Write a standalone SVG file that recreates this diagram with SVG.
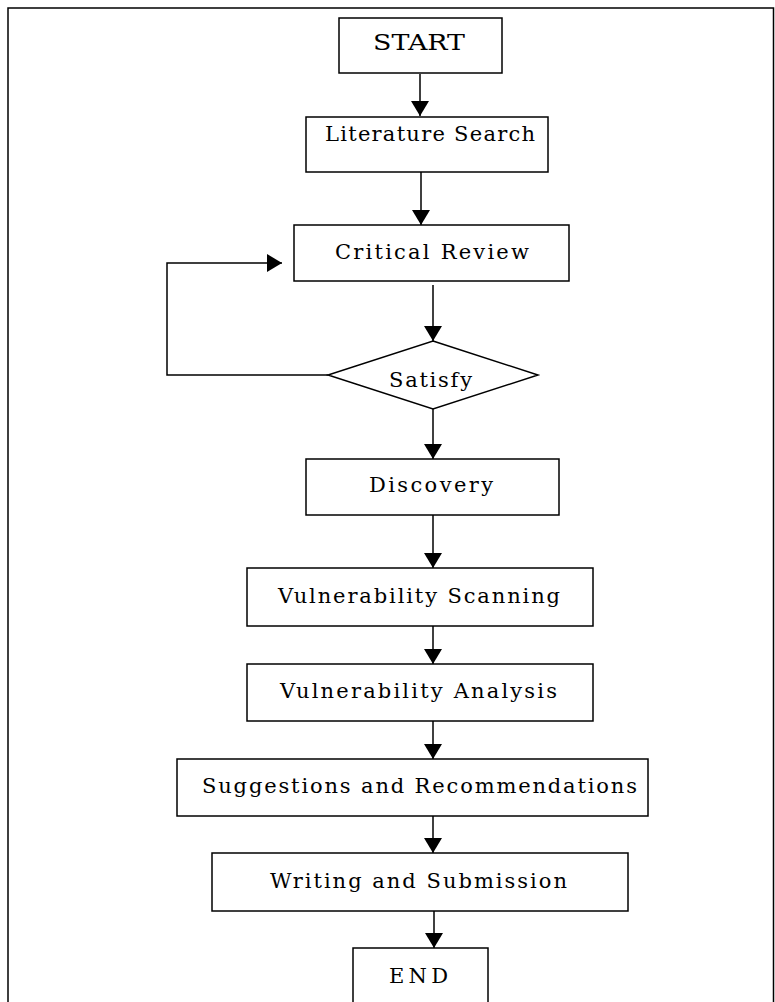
<svg xmlns="http://www.w3.org/2000/svg" width="775" height="1002" viewBox="0 0 775 1002">
<style>
.box{fill:#fff;stroke:#000;stroke-width:1.5}
.frame{fill:none;stroke:#000;stroke-width:1.5}
.lbl{font-family:"DejaVu Serif","Liberation Serif",serif;font-size:21px;fill:#000}
.mono{font-family:"DejaVu Serif","Liberation Serif",serif;font-size:23px;fill:#000}
.conn{fill:none;stroke:#000;stroke-width:1.5}
</style>
<defs>
<marker id="ah" viewBox="0 0 15 18" refX="15" refY="9" markerWidth="15" markerHeight="18" markerUnits="userSpaceOnUse" orient="auto">
<path d="M0,0 L15,9 L0,18 Z" fill="#000"/>
</marker>
</defs>
<rect width="775" height="1002" fill="#fff"/>
<path class="frame" d="M8,1002 V8 H773.5 V1002"/>
<g id="connectors">
<line class="conn" x1="420" y1="74" x2="420" y2="116" marker-end="url(#ah)"/>
<line class="conn" x1="421" y1="172" x2="421" y2="225" marker-end="url(#ah)"/>
<line class="conn" x1="433" y1="285" x2="433" y2="341" marker-end="url(#ah)"/>
<line class="conn" x1="433" y1="409" x2="433" y2="459" marker-end="url(#ah)"/>
<line class="conn" x1="433" y1="515" x2="433" y2="568" marker-end="url(#ah)"/>
<line class="conn" x1="433" y1="626" x2="433" y2="664" marker-end="url(#ah)"/>
<line class="conn" x1="433" y1="721" x2="433" y2="759" marker-end="url(#ah)"/>
<line class="conn" x1="433" y1="816" x2="433" y2="853" marker-end="url(#ah)"/>
<line class="conn" x1="434" y1="911" x2="434" y2="948" marker-end="url(#ah)"/>
<polyline class="conn" points="328,375 167,375 167,263 282,263" marker-end="url(#ah)"/>
</g>
<g id="start">
<rect class="box" x="339" y="18" width="163" height="55"/>
<text class="mono" x="373" y="50" textLength="92" lengthAdjust="spacingAndGlyphs">START</text>
</g>
<g id="literature-search">
<rect class="box" x="306" y="117" width="242" height="55"/>
<text class="lbl" x="325" y="141" textLength="210" lengthAdjust="spacing">Literature Search</text>
</g>
<g id="critical-review">
<rect class="box" x="294" y="225" width="275" height="56"/>
<text class="lbl" x="335" y="259" textLength="194" lengthAdjust="spacing">Critical Review</text>
</g>
<g id="satisfy">
<polygon class="box" points="433,341 538,375 433,409 328,375"/>
<text class="lbl" x="389" y="387" textLength="83" lengthAdjust="spacing">Satisfy</text>
</g>
<g id="discovery">
<rect class="box" x="306" y="459" width="253" height="56"/>
<text class="lbl" x="369" y="492" textLength="124" lengthAdjust="spacing">Discovery</text>
</g>
<g id="vulnerability-scanning">
<rect class="box" x="247" y="568" width="346" height="58"/>
<text class="lbl" x="278" y="603" textLength="282" lengthAdjust="spacing">Vulnerability Scanning</text>
</g>
<g id="vulnerability-analysis">
<rect class="box" x="247" y="664" width="346" height="57"/>
<text class="lbl" x="280" y="698" textLength="277" lengthAdjust="spacing">Vulnerability Analysis</text>
</g>
<g id="suggestions">
<rect class="box" x="177" y="759" width="471" height="57"/>
<text class="lbl" x="202" y="793" textLength="435" lengthAdjust="spacing">Suggestions and Recommendations</text>
</g>
<g id="writing">
<rect class="box" x="212" y="853" width="416" height="58"/>
<text class="lbl" x="270" y="888" textLength="297" lengthAdjust="spacing">Writing and Submission</text>
</g>
<g id="end">
<rect class="box" x="353" y="948" width="135" height="70"/>
<text class="lbl" x="389" y="983" textLength="59" lengthAdjust="spacing">END</text>
</g>
</svg>
